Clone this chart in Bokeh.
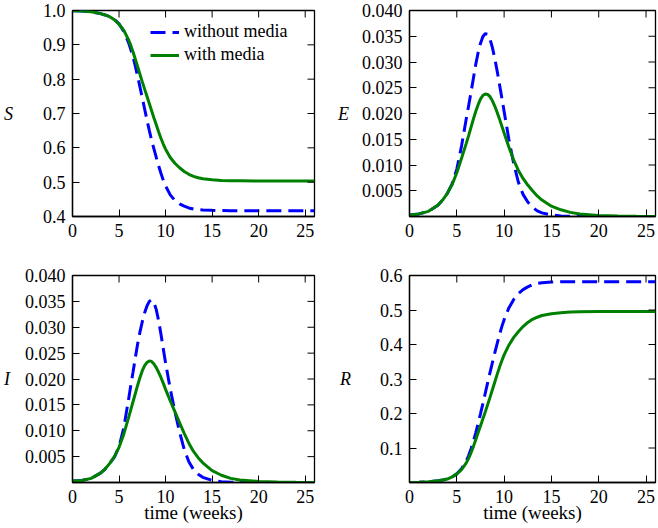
import math
from bokeh.plotting import figure
from bokeh.layouts import gridplot
from bokeh.models import Range1d, FixedTicker, NumeralTickFormatter
from bokeh.embed import file_html
from bokeh.resources import INLINE

# time (weeks)
t = [0, 1, 2, 3, 3.5, 4, 4.5, 5, 5.5, 6, 6.25, 6.5, 6.75, 7, 7.25, 7.5, 7.75, 8, 8.25,
     8.5, 8.75, 9, 9.25, 9.5, 9.75, 10, 10.5, 11, 11.5, 12, 12.5, 13, 13.5, 14, 15, 16,
     17, 18, 20, 22, 24, 26]

S_without = [0.9995, 0.9986, 0.996, 0.991, 0.987, 0.982, 0.974, 0.961, 0.940, 0.908,
             0.888, 0.865, 0.838, 0.808, 0.777, 0.745, 0.713, 0.681, 0.651, 0.622,
             0.597, 0.572, 0.548, 0.526, 0.506, 0.489, 0.463, 0.447, 0.437, 0.430,
             0.425, 0.422, 0.420, 0.419, 0.418, 0.4175, 0.417, 0.417, 0.417, 0.417,
             0.417, 0.417]
S_with = [0.9995, 0.9986, 0.996, 0.991, 0.987, 0.982, 0.973, 0.960, 0.943, 0.916,
          0.899, 0.880, 0.858, 0.836, 0.814, 0.792, 0.771, 0.750, 0.729, 0.708,
          0.687, 0.667, 0.647, 0.628, 0.611, 0.596, 0.572, 0.555, 0.542, 0.531,
          0.523, 0.517, 0.513, 0.510, 0.507, 0.505, 0.504, 0.504, 0.5035, 0.5035,
          0.5035, 0.5035]

E_without = [0.0003, 0.0005, 0.001, 0.0022, 0.0032, 0.0045, 0.0063, 0.0092, 0.0137, 0.019,
             0.0215, 0.0241, 0.0268, 0.0295, 0.0318, 0.0336, 0.0349, 0.0355, 0.0354, 0.0345,
             0.0329, 0.0308, 0.0284, 0.0258, 0.0231, 0.0204, 0.015, 0.0104, 0.0067, 0.0043,
             0.0028, 0.0018, 0.0011, 0.0007, 0.0003, 0.0001, 0.00004, 0.00002, 0.0, 0.0,
             0.0, 0.0]
E_with = [0.0003, 0.0005, 0.001, 0.0022, 0.0032, 0.0045, 0.0062, 0.0085, 0.0113, 0.0142,
          0.0157, 0.0173, 0.0189, 0.0204, 0.0217, 0.0228, 0.0235, 0.0238, 0.0237, 0.0233,
          0.0225, 0.0215, 0.0203, 0.019, 0.0176, 0.0162, 0.0135, 0.011, 0.009, 0.0074,
          0.0061, 0.005, 0.004, 0.0032, 0.002, 0.0013, 0.0008, 0.0005, 0.0002, 0.0001,
          0.00004, 0.00002]

I_without = [0.0003, 0.0004, 0.0008, 0.0018, 0.0026, 0.0037, 0.0049, 0.0069, 0.0105, 0.0158,
             0.0186, 0.0213, 0.0241, 0.0268, 0.0291, 0.0311, 0.0328, 0.0341, 0.035, 0.0353,
             0.0348, 0.0334, 0.0313, 0.0287, 0.0259, 0.0231, 0.0181, 0.0137, 0.0098, 0.0064,
             0.004, 0.0025, 0.0016, 0.001, 0.0004, 0.00015, 0.00005, 0.00002, 0.0, 0.0,
             0.0, 0.0]
I_with = [0.0003, 0.0004, 0.0008, 0.0018, 0.0026, 0.0037, 0.005, 0.0068, 0.0093, 0.0124,
          0.014, 0.0156, 0.0172, 0.0188, 0.0203, 0.0216, 0.0226, 0.0232, 0.0235, 0.0234,
          0.0229, 0.0222, 0.0213, 0.0203, 0.0192, 0.018, 0.0158, 0.0137, 0.0116, 0.0095,
          0.0076, 0.006, 0.0048, 0.0038, 0.0023, 0.0014, 0.0008, 0.0005, 0.0002, 0.00008,
          0.00003, 0.00001]

R_without = [0.0, 0.0005, 0.002, 0.005, 0.007, 0.01, 0.016, 0.025, 0.04, 0.062,
             0.078, 0.097, 0.119, 0.144, 0.171, 0.199, 0.228, 0.258, 0.288, 0.318,
             0.346, 0.374, 0.401, 0.427, 0.451, 0.472, 0.506, 0.53, 0.547, 0.559,
             0.567, 0.573, 0.577, 0.579, 0.581, 0.582, 0.582, 0.582, 0.582, 0.582,
             0.582, 0.582]
R_with = [0.0, 0.0005, 0.002, 0.005, 0.007, 0.01, 0.016, 0.025, 0.037, 0.057,
          0.07, 0.086, 0.104, 0.124, 0.144, 0.164, 0.184, 0.204, 0.225, 0.246,
          0.268, 0.29, 0.312, 0.333, 0.352, 0.37, 0.398, 0.42, 0.437, 0.452,
          0.464, 0.473, 0.479, 0.484, 0.489, 0.492, 0.494, 0.495, 0.496, 0.496,
          0.496, 0.496]

X_MAX = 26
x_ticks = [0, 5, 10, 15, 20, 25]
S_ticks = [0.4, 0.5, 0.6, 0.7, 0.8, 0.9, 1.0]
EI_ticks = [0.005, 0.010, 0.015, 0.020, 0.025, 0.030, 0.035, 0.040]
R_ticks = [0.1, 0.2, 0.3, 0.4, 0.5, 0.6]

FONT = "Liberation Serif"
TICK_SIZE = "18px"
BLUE = "#0000ff"
GREEN = "#008000"
TICK_LEN = 7


def style_axis(ax, ticks, fmt=None):
    ax.ticker = FixedTicker(ticks=ticks)
    if fmt is not None:
        ax.formatter = NumeralTickFormatter(format=fmt)
    ax.major_tick_in = TICK_LEN
    ax.major_tick_out = 0
    ax.minor_tick_line_color = None
    ax.axis_line_color = "black"
    ax.axis_line_width = 1.3
    ax.major_tick_line_color = "black"
    ax.major_tick_line_width = 1
    ax.major_label_text_font = FONT
    ax.major_label_text_color = "black"
    ax.major_label_text_font_size = TICK_SIZE
    ax.major_label_standoff = 7


def panel(y_without, y_with, y_range, yticks, yfmt, ylabel, ylabel_standoff,
          width, height, borders, xlabel=None, legend=False):
    bl, br, bt, bb = borders
    p = figure(width=width, height=height, x_range=Range1d(0, X_MAX), y_range=Range1d(*y_range),
               output_backend="svg", toolbar_location=None,
               min_border_left=bl, min_border_right=br, min_border_top=bt, min_border_bottom=bb)
    p.background_fill_color = "white"
    p.border_fill_color = "white"
    p.outline_line_color = "black"
    p.outline_line_width = 1.3
    p.xgrid.visible = False
    p.ygrid.visible = False

    if legend:
        p.line(t, y_without, line_color=BLUE, line_width=3, line_dash="15 7",
               legend_label="without media")
        p.line(t, y_with, line_color=GREEN, line_width=3, legend_label="with media")
    else:
        p.line(t, y_without, line_color=BLUE, line_width=3, line_dash="15 7")
        p.line(t, y_with, line_color=GREEN, line_width=3)

    # inward ticks on the top and right edges of the box
    p.ray(x=x_ticks, y=[y_range[1]] * len(x_ticks), length=TICK_LEN, length_units="screen",
          angle=-math.pi / 2, line_color="black", line_width=1)
    p.ray(x=[X_MAX] * len(yticks), y=yticks, length=TICK_LEN, length_units="screen",
          angle=math.pi, line_color="black", line_width=1)

    xa = p.xaxis[0]
    style_axis(xa, x_ticks)
    if xlabel:
        xa.axis_label = xlabel
        xa.axis_label_text_font = FONT
        xa.axis_label_text_font_style = "normal"
        xa.axis_label_text_font_size = "19px"
        xa.axis_label_text_color = "black"
        xa.axis_label_standoff = -4

    ya = p.yaxis[0]
    style_axis(ya, yticks, yfmt)
    ya.axis_label = ylabel
    ya.axis_label_text_font = FONT
    ya.axis_label_text_font_style = "italic"
    ya.axis_label_text_font_size = "18px"
    ya.axis_label_text_color = "black"
    ya.axis_label_standoff = ylabel_standoff
    ya.axis_label_orientation = "horizontal"

    if legend:
        lg = p.legend[0]
        lg.location = (78, 151)
        lg.border_line_color = None
        lg.background_fill_alpha = 0
        lg.padding = 0
        lg.margin = 0
        lg.spacing = 2
        lg.glyph_width = 29
        lg.glyph_height = 20
        lg.label_height = 20
        lg.label_standoff = 5
        lg.label_text_font = FONT
        lg.label_text_font_size = "18px"
        lg.label_text_color = "black"
    return p


p1 = panel(S_without, S_with, (0.4, 1.0), S_ticks, "0.0", "S", 27,
           330, 262, (68, 16, 10, 46), legend=True)
p2 = panel(E_without, E_with, (0.0, 0.04), EI_ticks, "0.000", "E", 10,
           328, 262, (79, 3, 10, 46))
p3 = panel(I_without, I_with, (0.0, 0.04), EI_ticks, "0.000", "I", 12,
           330, 266, (68, 16, 13, 46), xlabel="time (weeks)")
p4 = panel(R_without, R_with, (0.0, 0.6), R_ticks, "0.0", "R", 26,
           328, 266, (79, 3, 13, 46), xlabel="time (weeks)")

grid = gridplot([[p1, p2], [p3, p4]], toolbar_location=None)

open("out.html", "w").write(file_html(grid, INLINE))
